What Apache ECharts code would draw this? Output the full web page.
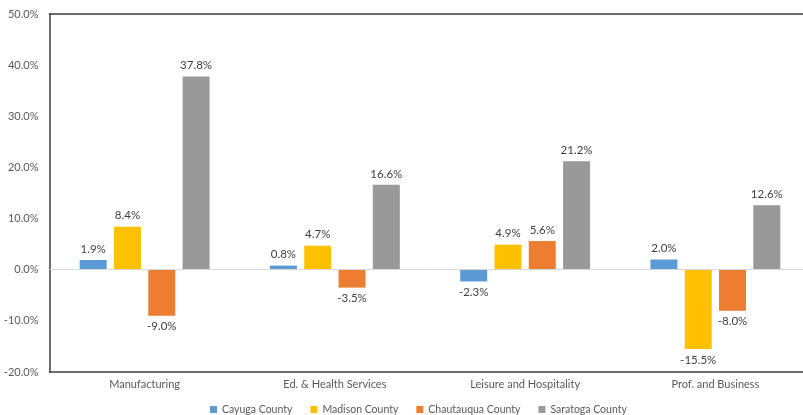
<!DOCTYPE html>
<html><head><meta charset="utf-8">
<script src="https://cdn.jsdelivr.net/npm/echarts@6/dist/echarts.min.js"></script>
<style>html,body{margin:0;padding:0;background:#fff}#c{width:803px;height:415px}</style>
</head><body><div id="c"></div>
<script>
const categories = ['Manufacturing', 'Ed. & Health Services', 'Leisure and Hospitality', 'Prof. and Business'];
const seriesNames = ['Cayuga County', 'Madison County', 'Chautauqua County', 'Saratoga County'];
const cayuga = [1.9, 0.8, -2.3, 2.0];
const madison = [8.4, 4.7, 4.9, -15.5];
const chautauqua = [-9.0, -3.5, 5.6, -8.0];
const saratoga = [37.8, 16.6, 21.2, 12.6];
const colors = ['#5B9BD5', '#FFC000', '#ED7D31', '#999999'];
const allValues = [cayuga, madison, chautauqua, saratoga];
const FONT = 'Lato';
const BORDER = {show: true, onZero: false, lineStyle: {color: '#3a3a3a', width: 1.5}};

const chart = echarts.init(document.getElementById('c'), null, {renderer: 'canvas'});
const series = allValues.map((vals, i) => ({
  name: seriesNames[i],
  type: 'bar',
  barWidth: 27,
  barGap: '27%',
  itemStyle: {color: colors[i]},
  data: vals.map(v => ({
    value: v,
    label: {position: v < 0 ? 'bottom' : 'top'}
  })),
  label: {
    show: true, distance: 5,
    color: '#404040', fontSize: 11.5, fontFamily: FONT,
    formatter: p => p.value.toFixed(1) + '%'
  },
  markLine: i === 0 ? {
    silent: true, symbol: 'none', label: {show: false},
    lineStyle: {color: '#D9D9D9', width: 1, type: 'solid'},
    data: [{yAxis: 0}], animation: false
  } : undefined
}));

chart.setOption({
  animation: false,
  textStyle: {fontFamily: FONT},
  grid: {left: 49.5, top: 14, height: 358, width: 761, outerBoundsMode: 'none', show: false, containLabel: false},
  legend: {
    top: 399, left: 205, itemWidth: 7, itemHeight: 7, itemGap: 18,
    icon: 'rect',
    textStyle: {color: '#595959', fontSize: 10.5, fontFamily: FONT},
    data: seriesNames
  },
  xAxis: [{
    type: 'category', data: categories, position: 'bottom',
    axisLine: BORDER,
    axisTick: {show: false},
    axisLabel: {color: '#595959', fontSize: 11, fontFamily: FONT, margin: 7}
  }, {
    type: 'category', data: categories, position: 'top',
    axisLine: BORDER,
    axisTick: {show: false},
    axisLabel: {show: false}
  }],
  yAxis: {
    type: 'value', min: -20, max: 50, interval: 10,
    splitLine: {show: false},
    axisLine: BORDER, axisTick: {show: false},
    axisLabel: {color: '#595959', fontSize: 11, fontFamily: FONT, margin: 11,
      formatter: v => v.toFixed(1) + '%'}
  },
  series: series
});
</script></body></html>
